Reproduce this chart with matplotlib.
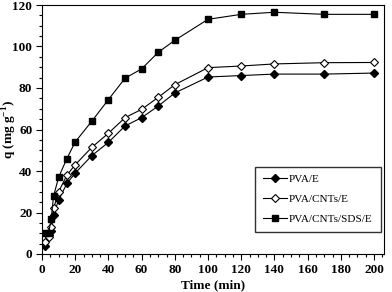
import matplotlib.pyplot as plt

time = [2, 4, 5.5, 7, 10, 15, 20, 30, 40, 50, 60, 70, 80, 100, 120, 140, 170, 200]
q_pva = [4, 9, 11, 19, 26, 34, 39, 47.4, 53.8, 61.7, 65.7, 71.3, 77.6, 85.3, 86, 86.7, 86.7, 87.2]
q_cnt = [6, 8, 13, 22, 30, 38, 43, 51.4, 58.2, 65.7, 69.7, 75.5, 81.6, 89.8, 90.6, 91.6, 92.2, 92.3]
q_sds = [10, 10, 17, 28, 37, 46, 54, 64, 74.4, 84.7, 89.2, 97.2, 103, 113.1, 115.5, 116.5, 115.5, 115.5]

plt.rcParams['font.family'] = ['Liberation Serif', 'DejaVu Serif']
plt.rcParams['mathtext.fontset'] = 'custom'
plt.rcParams['mathtext.rm'] = 'Liberation Serif'
plt.rcParams['mathtext.bf'] = 'Liberation Serif:bold'

fig = plt.figure(figsize=(3.92, 2.92), dpi=100)
ax = fig.add_axes([42 / 392, 38 / 292, 342 / 392, 249 / 292])

ax.plot(time, q_pva, color='black', lw=0.8, marker='D', ms=4, mfc='black', mec='black', label='PVA/E')
ax.plot(time, q_cnt, color='black', lw=0.8, marker='D', ms=4, mfc='white', mec='black', mew=0.8, label='PVA/CNTs/E')
ax.plot(time, q_sds, color='black', lw=0.8, marker='s', ms=4, mfc='black', mec='black', label='PVA/CNTs/SDS/E')

ax.set_xlim(0, 206)
ax.set_ylim(0, 120)
ax.set_xticks(range(0, 201, 20))
ax.set_yticks(range(0, 121, 20))
ax.set_xticks(range(0, 206, 5), minor=True)
ax.set_yticks(range(0, 121, 5), minor=True)
ax.tick_params(which='both', direction='out', top=False, right=False, width=0.8)
ax.tick_params(which='major', length=4, labelsize=9.5, pad=3)
ax.tick_params(which='minor', length=2)
for lab in ax.get_xticklabels() + ax.get_yticklabels():
    lab.set_fontweight('bold')
for s in ax.spines.values():
    s.set_linewidth(0.8)

ax.set_xlabel('Time (min)', fontsize=9.5, fontweight='bold')
ax.xaxis.set_label_coords(0.5, -0.1)
ax.set_ylabel(r'q (mg g$^{\mathbf{-1}}$)', fontsize=9.5, fontweight='bold')
ax.yaxis.set_label_coords(-0.068, 0.5)

leg = ax.legend(loc='lower right', bbox_to_anchor=(0.99, 0.09), fontsize=8, frameon=True,
                fancybox=False, edgecolor='black', handlelength=2.2, labelspacing=0.9,
                borderpad=0.7, handletextpad=0.2, borderaxespad=0)
leg.get_frame().set_linewidth(1.0)

fig.savefig('out.png', dpi=100)
